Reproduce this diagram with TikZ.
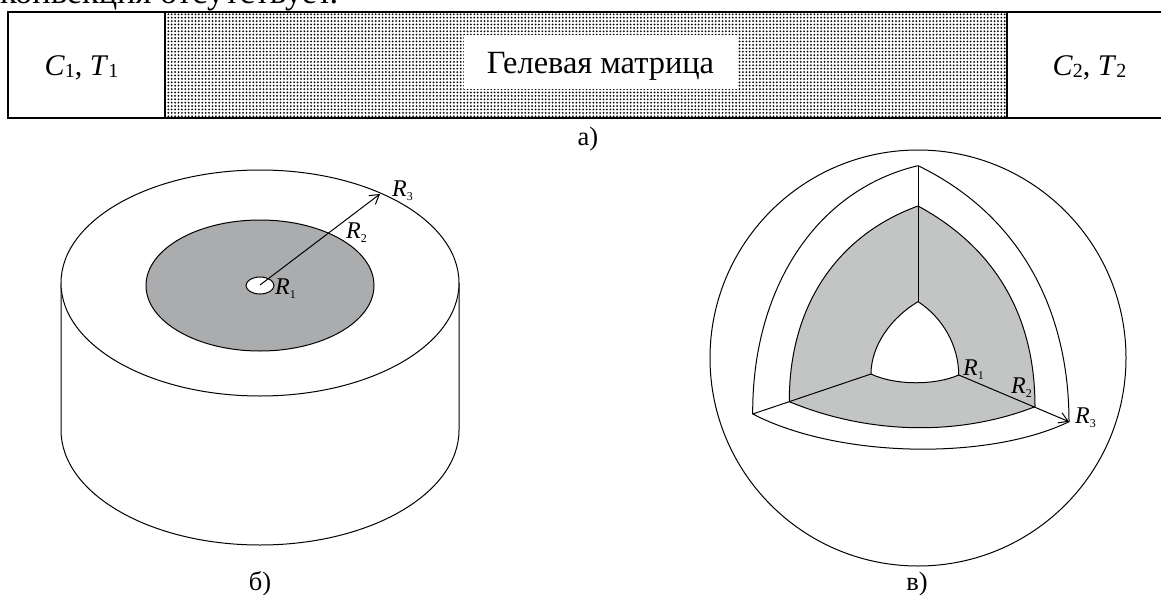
\documentclass[tikz,border=0pt]{standalone}
\usepackage{fontspec}
\setmainfont{Liberation Serif}
\usetikzlibrary{patterns,arrows.meta}
\pgfdeclarepatternformonly{gelp}{\pgfqpoint{-1pt}{-1pt}}{\pgfqpoint{4pt}{4pt}}{\pgfqpoint{3.4pt}{3.4pt}}{%
  \pgfpathcircle{\pgfqpoint{1.7pt}{1.7pt}}{1pt}
  \pgfusepath{fill}}
\tikzset{
  line/.style={black,line width=1pt},
  boxline/.style={black,line width=1.7pt},
  rlabel/.style={anchor=base west,inner sep=0pt,font=\fontsize{24}{24}\selectfont\itshape},
  txt/.style={anchor=base,inner sep=0pt,font=\fontsize{30}{30}\selectfont},
  gellabel/.style={anchor=base,inner sep=0pt,font=\fontsize{32.4}{32.4}\selectfont},
  capt/.style={anchor=base,inner sep=0pt,font=\fontsize{26.5}{26.5}\selectfont},
  arrowline/.style={line,-{Straight Barb[length=9pt,width=11pt,line width=1pt]}}
}
\newcommand{\sbs}[1]{{\fontsize{20}{20}\selectfont\upshape\raisebox{-2pt}{#1}}}
\newcommand{\rsb}[1]{{\fontsize{12}{12}\selectfont\upshape\raisebox{-4pt}{#1}}}
\begin{document}
\begin{tikzpicture}[x=1pt,y=-1pt]
\useasboundingbox (0,0) rectangle (1161,594);
% top text
\node[anchor=base west,inner sep=0pt,font=\fontsize{34.4}{34.4}\selectfont] (toptext) at (0,4) {конвекция отсутствует.};
% bar a)
\fill[white] (165,12) rectangle (1007,118);
\fill[pattern=gelp,pattern color=black] (165,12) rectangle (1007,118);
\draw[boxline] (1161,12) -- (8,12) -- (8,118) -- (1161,118);
\draw[boxline] (165,12) -- (165,118);
\draw[boxline] (1007,12) -- (1007,118);
\fill[white] (464,35) rectangle (737,89);
\node[txt] (c1) at (81.5,75) {\textit{C}\sbs{1}, \textit{T}\sbs{1}};
\node[gellabel] (gel) at (600.5,74) {Гелевая матрица};
\node[txt] (c2) at (1089.5,75.5) {\textit{C}\sbs{2}, \textit{T}\sbs{2}};
\node[capt] (capa) at (588,145) {а)};
% cylinder
\draw[line] (61,283) -- (61,430) arc[start angle=180,end angle=0,x radius=199,y radius=115] -- (459,283);
\draw[line,fill=white] (260,283) ellipse[x radius=199,y radius=113];
\fill[fill={rgb,255:red,171;green,172;blue,174},draw=black,line width=1pt] (260,285.5) ellipse[x radius=114,y radius=65.5];
\draw[line,fill=white] (260,285.5) ellipse[x radius=14,y radius=8.5];
\coordinate (cyl0) at (260,285);
\coordinate (cyl3) at (380,194);
\draw[arrowline] (cyl0) -- (cyl3);
\node[rlabel] (b1) at (275,294) {R\rsb{1}};
\node[rlabel] (b2) at (346,238) {R\rsb{2}};
\node[rlabel] (b3) at (392,196) {R\rsb{3}};
\node[capt] (capb) at (260,590) {б)};
% sphere
\draw[line] (918,358) circle[radius=208];
\coordinate (OL) at (752.7,414);
\coordinate (OA) at (918,165.7);
\coordinate (OR) at (1069,421.7);
\coordinate (GL) at (789.3,401.7);
\coordinate (GA) at (918,206);
\coordinate (GR) at (1035,406.7);
\coordinate (IL) at (871,374);
\coordinate (IA) at (918,301.7);
\coordinate (IR) at (958.7,375);
\draw[line] (OL) .. controls (752,290) and (815,190) .. (OA)
  .. controls (1020,215) and (1069,310) .. (OR)
  .. controls (990,460) and (840,459) .. (OL);
\fill[fill={rgb,255:red,195;green,197;blue,196},draw=black,line width=1pt]
  (GL) .. controls (789,305) and (838,235) .. (GA)
  .. controls (990,245) and (1035,310) .. (GR)
  .. controls (960,436) and (870,435) .. (GL);
\draw[line,fill=white] (IL) .. controls (871,345) and (892,317) .. (IA)
  .. controls (942,317) and (958.7,345) .. (IR)
  .. controls (935,385.5) and (895,385.5) .. (IL);
\draw[line] (OA) -- (IA);
\draw[line] (OL) -- (IL);
\draw[arrowline] (IR) -- (OR);
\node[rlabel] (s1) at (963,375) {R\rsb{1}};
\node[rlabel] (s2) at (1011,393) {R\rsb{2}};
\node[rlabel] (s3) at (1075,423) {R\rsb{3}};
\node[capt] (capc) at (917,590) {в)};
\end{tikzpicture}
\end{document}
